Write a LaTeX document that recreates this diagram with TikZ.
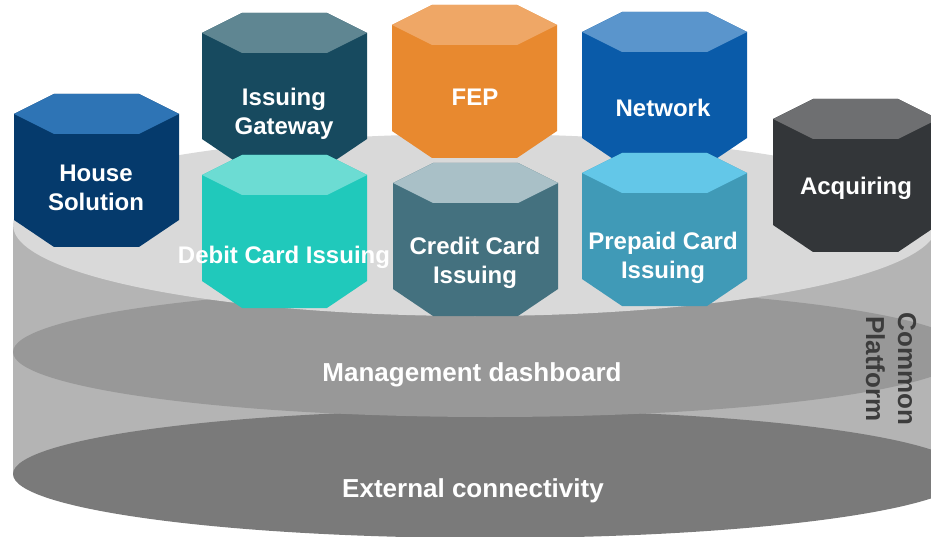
\documentclass[tikz,border=0pt]{standalone}
\usepackage{xcolor}
\usepackage{fontspec}
\setmainfont{Liberation Sans}
\usepackage{tikz}
\usetikzlibrary{calc,positioning}
\definecolor{platTop}{HTML}{D9D9D9}
\definecolor{platSide}{HTML}{B4B4B4}
\definecolor{platMid}{HTML}{989898}
\definecolor{platLow}{HTML}{7A7A7A}
\definecolor{platText}{HTML}{3C3C3C}
\definecolor{houseTop}{HTML}{2E74B5}
\definecolor{houseBody}{HTML}{053A6C}
\definecolor{gateTop}{HTML}{5F8692}
\definecolor{gateBody}{HTML}{174A5F}
\definecolor{fepTop}{HTML}{EFA766}
\definecolor{fepBody}{HTML}{E8892F}
\definecolor{netTop}{HTML}{5A95CC}
\definecolor{netBody}{HTML}{0A5BA9}
\definecolor{acqTop}{HTML}{6E6F71}
\definecolor{acqBody}{HTML}{333639}
\definecolor{debTop}{HTML}{6CDCD3}
\definecolor{debBody}{HTML}{20C9BB}
\definecolor{credTop}{HTML}{A9C0C7}
\definecolor{credBody}{HTML}{44717F}
\definecolor{prepTop}{HTML}{63C7E8}
\definecolor{prepBody}{HTML}{409AB7}
% hexagonal can: left x, top y, top colour, body colour
\newcommand{\hexcan}[4]{%
  \fill[#4] (#1,#2+20) -- (#1+40,#2) -- (#1+125,#2) -- (#1+165,#2+20)
    -- (#1+165,#2+126) -- (#1+125,#2+153) -- (#1+40,#2+153) -- (#1,#2+126) -- cycle;
  \fill[#3] (#1,#2+20) -- (#1+40,#2) -- (#1+125,#2) -- (#1+165,#2+20)
    -- (#1+125,#2+40) -- (#1+40,#2+40) -- cycle;
}
\tikzset{
  canlabel/.style={text=white,inner sep=0pt,align=center,font=\bfseries\fontsize{24}{28.5}\selectfont},
  platlabel/.style={text=white,inner sep=0pt,font=\bfseries\fontsize{26}{30}\selectfont},
}

\begin{document}
\begin{tikzpicture}[x=1pt,y=-1pt]
  \clip (0,0) rectangle (931,537);
  \fill[white] (0,0) rectangle (931,537);
  % platform
  \fill[platSide] (13,224) rectangle (980,474);
  \fill[platLow] (490,474) ellipse [x radius=477pt,y radius=64pt];
  \fill[platMid] (490,352) ellipse [x radius=477pt,y radius=65pt];
  \fill[platTop] (475,225) ellipse [x radius=462pt,y radius=91pt];
  \node[platlabel] (dash) at (472,375) {Management dashboard};
  \node[platlabel] (conn) at (473,491) {External connectivity};
  \node[rotate=-90,text=platText,inner sep=0pt,align=center,
        font=\bfseries\fontsize{26}{32}\selectfont] (common) at (891,369) {Common\\Platform};
  % back row
  \hexcan{14}{94}{houseTop}{houseBody}
  \hexcan{202}{13}{gateTop}{gateBody}
  \hexcan{392}{5}{fepTop}{fepBody}
  \hexcan{582}{12}{netTop}{netBody}
  \hexcan{773}{99}{acqTop}{acqBody}
  \node[canlabel] (house) at (96,188) {House\\Solution};
  \node[canlabel] (gate) at (284,114) {Issuing\\Gateway};
  \node[canlabel] (fep) at (475,97) {FEP};
  \node[canlabel] (net) at (663,108) {Network};
  \node[canlabel] (acq) at (856,188) {Acquiring};
  % front row
  \hexcan{202}{155}{debTop}{debBody}
  \hexcan{393}{163}{credTop}{credBody}
  \hexcan{582}{153}{prepTop}{prepBody}
  \node[canlabel] (debit) at (284,257) {Debit Card Issuing};
  \node[canlabel] (credit) at (475,263) {Credit Card\\Issuing};
  \node[canlabel] (prepaid) at (663,258) {Prepaid Card\\Issuing};
\end{tikzpicture}
\end{document}
